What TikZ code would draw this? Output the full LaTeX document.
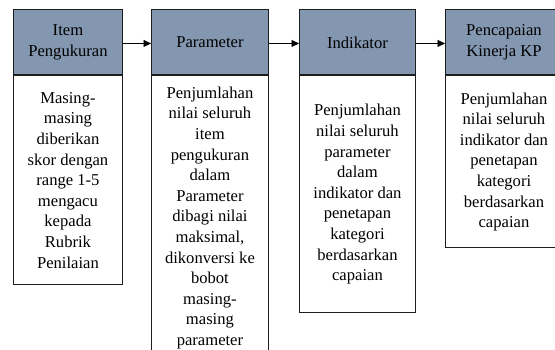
\documentclass[tikz,border=0pt]{standalone}
\usepackage{fontspec}
\setmainfont{Liberation Serif}
\usetikzlibrary{arrows.meta}
\definecolor{headfill}{RGB}{132,151,176}
\definecolor{edge}{RGB}{30,30,30}
\begin{document}
\begin{tikzpicture}[x=1pt,y=-1pt,
  box/.style={draw=edge, line width=0.9pt, anchor=north west, align=center,
    inner sep=0pt, font=\fontsize{16.6}{20.6}\selectfont},
  head/.style={box, fill=headfill, minimum height=65pt},
  conn/.style={draw=black, line width=0.9pt, -{Triangle[length=7.5pt,width=7pt]}}]
\useasboundingbox (0,0) rectangle (555,350);
\clip (0,0) rectangle (555,350);
% box 1
\node[head, minimum width=109pt] (h1) at (13,9.5) {Item\\Pengukuran};
\node[box, minimum width=109pt, minimum height=209pt] (b1) at (h1.south west)
  {Masing-\\masing\\diberikan\\skor dengan\\range 1-5\\mengacu\\kepada\\Rubrik\\Penilaian};
% box 2
\node[head, minimum width=117pt] (h2) at (151,9.5) {Parameter};
\node[box, minimum width=117pt, minimum height=284pt] (b2) at (h2.south west)
  {Penjumlahan\\nilai seluruh\\item\\pengukuran\\dalam\\Parameter\\dibagi nilai\\maksimal,\\dikonversi ke\\bobot\\masing-\\masing\\parameter};
% box 3
\node[head, minimum width=116pt] (h3) at (299,9.5) {Indikator};
\node[box, minimum width=116pt, minimum height=237pt] (b3) at (h3.south west)
  {Penjumlahan\\nilai seluruh\\parameter\\dalam\\indikator dan\\penetapan\\kategori\\berdasarkan\\capaian};
% box 4
\node[head, minimum width=117pt] (h4) at (445,9.5) {Pencapaian\\Kinerja KP};
\node[box, minimum width=117pt, minimum height=172pt] (b4) at (h4.south west)
  {Penjumlahan\\nilai seluruh\\indikator dan\\penetapan\\kategori\\berdasarkan\\capaian};
% connectors
\draw[conn] ([yshift=-1pt]h1.east) -- ([yshift=-1pt]h2.west);
\draw[conn] ([yshift=-1pt]h2.east) -- ([yshift=-1pt]h3.west);
\draw[conn] ([yshift=-1pt]h3.east) -- ([yshift=-1pt]h4.west);
\end{tikzpicture}
\end{document}
